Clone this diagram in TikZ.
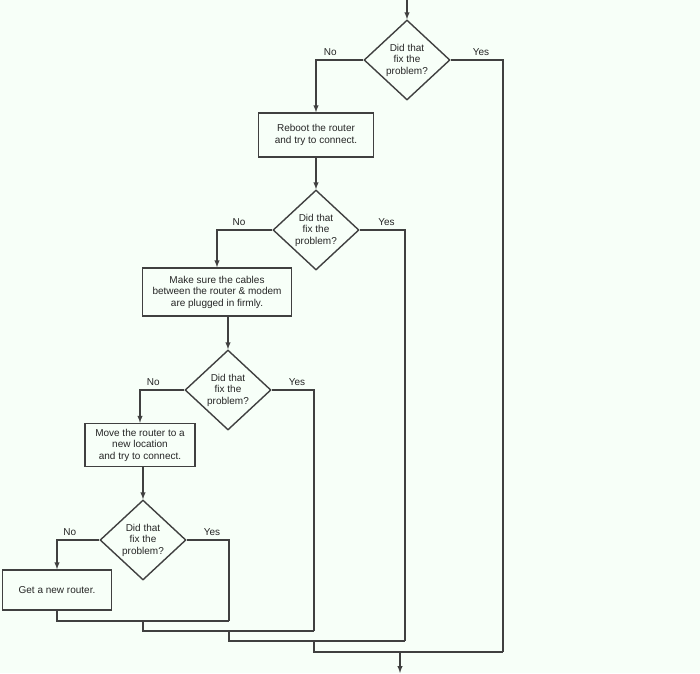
\documentclass[tikz,border=0pt]{standalone}
\usepackage{fontspec}
\setmainfont{Liberation Sans}
\usetikzlibrary{shapes.geometric,positioning}

\begin{document}
\begin{tikzpicture}[x=1pt, y=-1pt, line width=1.4pt,
    every node/.style={font=\fontsize{10}{11.5}\selectfont, text=black!85},
    task/.style={draw=black!75, rectangle, align=center, inner sep=3pt},
    test/.style={draw=black!75, diamond, align=center, inner sep=0pt, minimum width=86pt, minimum height=80pt},
    link/.style={draw=black!75},
    flow/.style={link, -latex}]
    % background of the screen
    \fill[blue!4!green!3!white] (0,0) rectangle (700,673);
    \useasboundingbox (0,0) rectangle (700,673);

    % the steps and tests, top to bottom
    \coordinate (start) at (407,0);
    \node[test] (fix1) at (407,60) {Did that\\fix the\\problem?};
    \node[task, minimum width=115pt, minimum height=44pt] (reboot) at (316,135) {Reboot the router\\and try to connect.};
    \node[test] (fix2) at (316,230) {Did that\\fix the\\problem?};
    \node[task, minimum width=149pt, minimum height=48pt] (cables) at (217,292) {Make sure the cables\\between the router \& modem\\are plugged in firmly.};
    \node[test] (fix3) at (228,390) {Did that\\fix the\\problem?};
    \node[task, minimum width=110pt, minimum height=43pt] (move) at (140,445) {Move the router to a\\new location\\and try to connect.};
    \node[test] (fix4) at (143,540) {Did that\\fix the\\problem?};
    \node[task, minimum width=109pt, minimum height=40pt] (newrouter) at (57,590) {Get a new router.};

    % main path
    \draw[flow] (start) -- (fix1.north);
    \draw[flow] (fix1.west) -| node[pos=0.35, above] {No} (reboot.north);
    \draw[flow] (reboot) -- (fix2.north);
    \draw[flow] (fix2.west) -| node[pos=0.3, above] {No} (cables.north);
    \draw[flow] (cables.south -| fix3) -- (fix3.north);
    \draw[flow] (fix3.west) -| node[pos=0.35, above] {No} (move.north);
    \draw[flow] (move.south -| fix4) -- (fix4.north);
    \draw[flow] (fix4.west) -| node[pos=0.35, above] {No} (newrouter.north);

    % the Yes branches join at the bottom
    \coordinate (join4) at (143,621);
    \coordinate (join3) at (229,631);
    \coordinate (join2) at (314,641);
    \coordinate (join1) at (400,652);
    \coordinate (finish) at (400,673);
    \draw[link] (newrouter.south) |- (229,621);
    \draw[link] (fix4.east) -- node[above right=0pt and -8pt] {Yes} (229,540) -- (229,621);
    \draw[link] (join4) |- (314,631);
    \draw[link] (fix3.east) -- node[above right=0pt and -8pt] {Yes} (314,390) -- (314,631);
    \draw[link] (join3) |- (405,641);
    \draw[link] (fix2.east) -- node[above right=0pt and -8pt] {Yes} (405,230) -- (405,641);
    \draw[link] (join2) |- (503,652);
    \draw[link] (fix1.east) -- node[above right=0pt and -8pt] {Yes} (503,60) -- (503,652);
    \draw[flow] (join1) -- (finish);
\end{tikzpicture}
\end{document}
